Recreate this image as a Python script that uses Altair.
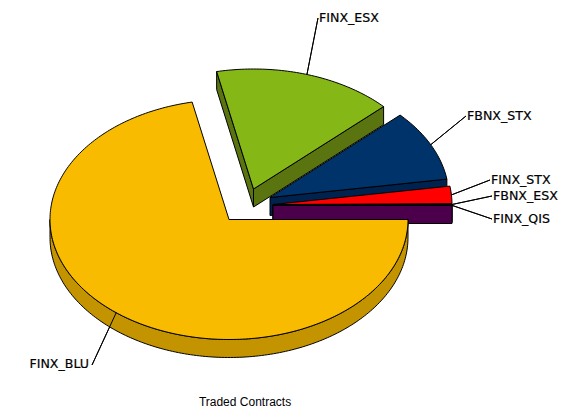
import math
import altair as alt
import pandas as pd

categories = ["FINX_BLU", "FINX_ESX", "FBNX_STX", "FINX_STX", "FBNX_ESX", "FINX_QIS"]
values = [71.7, 16.25, 9.6, 2.35, 0.07, 0.03]
top_colors = ["#F8BB00", "#85B716", "#00336A", "#FF0000", "#800080", "#4C004C"]
wall_colors = ["#C49300", "#5A7410", "#00224F", "#B00000", "#500050", "#4C004C"]

# layout (image pixels)
CX, CY, RX, RY, DEPTH = 229, 219.5, 179, 120, 18
explode = {"FINX_BLU": (0, 0), "FINX_ESX": (24.5, -30.5), "FBNX_STX": (41, -22),
           "FINX_STX": (44, -15), "FBNX_ESX": (44, -14.5), "FINX_QIS": (44, -14)}
label_pos = {"FINX_BLU": (89, 364, "right"), "FINX_ESX": (319, 18, "left"), "FBNX_STX": (467, 116, "left"),
             "FINX_STX": (491, 180, "left"), "FBNX_ESX": (493, 196, "left"), "FINX_QIS": (493, 219, "left")}
draw_order = ["FBNX_STX", "FINX_ESX", "FINX_STX", "FBNX_ESX", "FINX_QIS", "FINX_BLU"]

total = sum(values)
spans = {}
a = 0.0
for c, v in zip(categories, values):
    spans[c] = (a, a + v / total * 360)
    a += v / total * 360


def pt(cat, t, dz=0):
    ox, oy = explode[cat]
    r = math.radians(t)
    return (CX + ox + RX * math.cos(r), CY + oy + RY * math.sin(r) + dz)


def arc(cat, t0, t1, dz=0):
    n = max(2, int(abs(t1 - t0)) + 2)
    return [pt(cat, t0 + (t1 - t0) * i / (n - 1), dz) for i in range(n)]


polys = []


def add(pts, color):
    pid = len(polys)
    polys.append((pid, pts + [pts[0]], color))


for cat in draw_order:
    i = categories.index(cat)
    t0, t1 = spans[cat]
    ox, oy = explode[cat]
    apex = (CX + ox, CY + oy)
    apex_low = (apex[0], apex[1] + DEPTH)
    wall = wall_colors[i]
    if cat == "FINX_BLU":
        add(arc(cat, 0, 180) + arc(cat, 180, 0, DEPTH), wall)
    elif cat == "FINX_ESX":
        for t in (t0, t1):
            p = pt(cat, t)
            add([apex, p, (p[0], p[1] + DEPTH), apex_low], wall)
    else:
        p = pt(cat, t1)
        add([apex, p, (p[0], p[1] + DEPTH), apex_low], wall)
    add([apex] + arc(cat, t0, t1), top_colors[i])

poly_rows = []
for pid, pts, color in polys:
    for j, (x, y) in enumerate(pts):
        poly_rows.append({"pid": pid, "j": j, "x": x, "y": y, "color": color})

leader_ends = {"FINX_BLU": (92, 365), "FINX_ESX": (318, 18), "FBNX_STX": (466, 116),
               "FINX_STX": (490, 180), "FBNX_ESX": (492, 196), "FINX_QIS": (492, 219)}
leader_rows = []
for cat in categories:
    t0, t1 = spans[cat]
    p = pt(cat, (t0 + t1) / 2)
    leader_rows.append({"cat": cat, "j": 0, "x": p[0], "y": p[1]})
    leader_rows.append({"cat": cat, "j": 1, "x": leader_ends[cat][0], "y": leader_ends[cat][1]})

label_rows = [{"cat": c, "x": label_pos[c][0], "y": label_pos[c][1], "align": label_pos[c][2]} for c in categories]

xs = alt.Scale(domain=[8, 570], nice=False, zero=False)
ys = alt.Scale(domain=[404, 8], nice=False, zero=False)
X = alt.X("x:Q", scale=xs, axis=None)
Y = alt.Y("y:Q", scale=ys, axis=None)

poly_layer = alt.Chart(pd.DataFrame(poly_rows)).mark_line(stroke="black", strokeWidth=1, strokeJoin="miter", clip=False).encode(
    x=X, y=Y, detail="pid:N", order="j:Q", fill=alt.Fill("color:N", scale=None))
leader_layer = alt.Chart(pd.DataFrame(leader_rows)).mark_line(color="black", strokeWidth=1).encode(
    x=X, y=Y, detail="cat:N", order="j:Q")
df_l = pd.DataFrame(label_rows)
left_labels = alt.Chart(df_l[df_l["align"] == "left"]).mark_text(
    align="left", baseline="middle", font="DejaVu Sans", fontSize=12.6, color="black", stroke="black", strokeWidth=0.2).encode(x=X, y=Y, text="cat:N")
right_labels = alt.Chart(df_l[df_l["align"] == "right"]).mark_text(
    align="right", baseline="middle", font="DejaVu Sans", fontSize=12.6, color="black", stroke="black", strokeWidth=0.2).encode(x=X, y=Y, text="cat:N")
title = alt.Chart(pd.DataFrame([{"x": 245, "y": 402, "t": "Traded Contracts"}])).mark_text(
    align="center", baseline="middle", font="Liberation Sans", fontSize=12, color="black").encode(x=X, y=Y, text="t:N")

chart = alt.layer(leader_layer, poly_layer, leader_layer, left_labels, right_labels, title).properties(
    width=562, height=396, padding=0).configure_view(stroke=None)
chart.save("out.html", embed_options={"renderer": "svg", "actions": False})
